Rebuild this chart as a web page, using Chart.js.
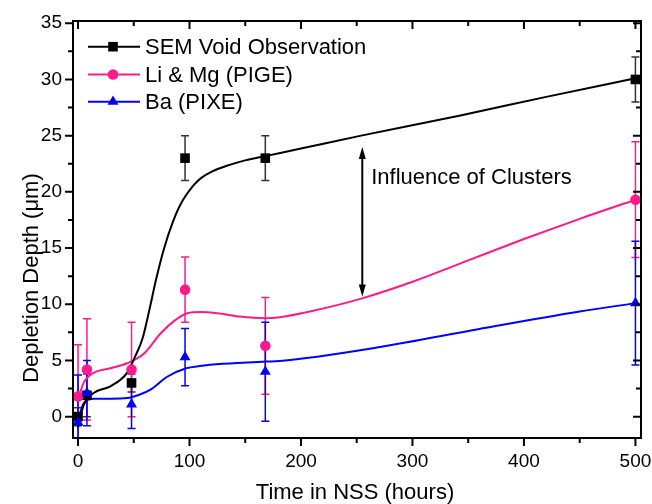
<!DOCTYPE html>
<html>
<head>
<meta charset="utf-8">
<script src="https://cdn.jsdelivr.net/npm/chart.js@4.4.0/dist/chart.umd.min.js"></script>
<style>
  html, body { margin: 0; padding: 0; background: #fff; }
  #wrap { width: 652px; height: 504px; position: relative; }
</style>
</head>
<body>
<div id="wrap"><canvas id="depthChart" width="652" height="504"></canvas></div>
<script>
// measured points (time in NSS, hours)
const hours = [0, 8, 48, 96, 168, 500];
const semDepth = [0, 1.9, 3, 23, 23, 30];
const semErr = [0.8, 1.9, 0.8, 2, 2, 2];
const limgDepth = [1.8, 4.2, 4.2, 11.3, 6.3, 19.3];
const limgErr = [4.6, 4.5, 4.2, 2.9, 4.3, 5.15];
const baDepth = [-0.5, 2.1, 1.1, 5.3, 4.0, 10.1];
const baErr = [4.2, 2.9, 2.15, 2.55, 4.4, 5.5];

// fitted curves
const semFitX = [0, 5, 14, 29, 44, 51, 58, 64, 70, 77, 85, 92, 103, 110, 120, 136, 150, 169, 200, 254, 343, 420, 500];
const semFitY = [-0.9, 1.0, 2.1, 2.7, 3.9, 5.3, 7.0, 9.5, 12.2, 14.9, 17.3, 18.9, 20.5, 21.2, 21.8, 22.4, 22.8, 23.2, 23.85, 25.0, 26.8, 28.45, 30.1];
const limgFitX = [0, 5, 14, 29, 44, 59, 74, 86, 98, 110, 125, 145, 168, 181, 210, 254, 300, 350, 400, 450, 500];
const limgFitY = [1.5, 3.0, 3.9, 4.3, 4.75, 5.6, 7.4, 8.5, 9.2, 9.3, 9.2, 8.9, 8.75, 8.85, 9.4, 10.5, 12.0, 13.9, 15.8, 17.6, 19.3];
const baFitX = [0, 2, 6, 14, 30, 44, 55, 65, 80, 97, 109, 130, 168, 181, 271, 360, 450, 500];
const baFitY = [-1.0, 0.3, 1.3, 1.6, 1.6, 1.65, 1.95, 2.4, 3.55, 4.3, 4.5, 4.7, 4.9, 4.95, 6.2, 7.8, 9.35, 10.1];

const seriesNames = ['SEM Void Observation', 'Li & Mg (PIGE)', 'Ba (PIXE)'];
const seriesColors = ['#000000', '#ff1a8c', '#0000ff'];
const barColors = ['#333333', '#ff1a8c', '#0000ff'];
const markerStyles = ['rect', 'circle', 'triangle'];
const markerRadii = [6.8, 5.3, 6.3];

const xTicks = [0, 100, 200, 300, 400, 500];
const xMinor = [50, 150, 250, 350, 450];
const yTicks = [0, 5, 10, 15, 20, 25, 30, 35];
const yMinor = [2.5, 7.5, 12.5, 17.5, 22.5, 27.5, 32.5];

// double arrow + note
const arrowX = 255, arrowTop = 24.0, arrowBottom = 10.7;
const noteText = 'Influence of Clusters';
const noteX = 263, noteY = 21.2;

const FONT = '"Liberation Sans", Arial, sans-serif';

function pts(xs, ys) { return xs.map((x, i) => ({x: x, y: ys[i]})); }

const markerSets = [semDepth, limgDepth, baDepth].map((vals, i) => ({
    label: seriesNames[i],
    data: pts(hours, vals),
    showLine: false,
    order: 3 - i,
    pointStyle: markerStyles[i],
    pointRadius: markerRadii[i],
    pointBackgroundColor: seriesColors[i],
    pointBorderColor: seriesColors[i],
    pointBorderWidth: 0
}));
const errs = [semErr, limgErr, baErr];

const fitSets = [[semFitX, semFitY], [limgFitX, limgFitY], [baFitX, baFitY]].map((f, i) => ({
    label: seriesNames[i] + ' fit',
    data: pts(f[0], f[1]),
    showLine: true,
    order: 10,
    pointRadius: 0,
    borderColor: seriesColors[i],
    borderWidth: 2,
    cubicInterpolationMode: 'monotone'
}));

const frame = {
    id: 'frame',
    beforeDatasetsDraw(chart) {
        const {ctx, chartArea: a, scales: {x, y}} = chart;
        ctx.save();
        ctx.beginPath();
        ctx.rect(a.left, a.top, a.right - a.left, a.bottom - a.top);
        ctx.clip();
        ctx.lineWidth = 1.5;
        markerSets.forEach((ds, i) => {
            ctx.strokeStyle = barColors[i];
            hours.forEach((h, j) => {
                const px = x.getPixelForValue(h);
                const v = ds.data[j].y, e = errs[i][j];
                const t = y.getPixelForValue(v + e), b = y.getPixelForValue(v - e);
                ctx.beginPath();
                ctx.moveTo(px, t); ctx.lineTo(px, b);
                ctx.moveTo(px - 4, t); ctx.lineTo(px + 4, t);
                ctx.moveTo(px - 4, b); ctx.lineTo(px + 4, b);
                ctx.stroke();
            });
        });
        ctx.restore();
    },
    afterDraw(chart) {
        const {ctx, chartArea: a, scales: {x, y}} = chart;
        ctx.save();
        // box
        ctx.strokeStyle = '#000';
        ctx.lineWidth = 2;
        ctx.strokeRect(a.left, a.top, a.right - a.left, a.bottom - a.top);
        // ticks: bottom/left outward, top/right inward
        ctx.beginPath();
        const xt = xTicks.map(v => [v, 8]).concat(xMinor.map(v => [v, 5]));
        xt.forEach(([v, len]) => {
            const px = x.getPixelForValue(v);
            ctx.moveTo(px, a.bottom); ctx.lineTo(px, a.bottom + len);
            ctx.moveTo(px, a.top); ctx.lineTo(px, a.top + len);
        });
        const yt = yTicks.map(v => [v, 8]).concat(yMinor.map(v => [v, 5]));
        yt.forEach(([v, len]) => {
            const py = y.getPixelForValue(v);
            ctx.moveTo(a.left, py); ctx.lineTo(a.left - len, py);
            ctx.moveTo(a.right, py); ctx.lineTo(a.right - len, py);
        });
        ctx.stroke();

        // legend
        ctx.font = '22px ' + FONT;
        ctx.textBaseline = 'middle';
        ctx.textAlign = 'left';
        const rows = [46.7, 74.5, 101.7];
        seriesNames.forEach((name, i) => {
            const ry = rows[i];
            ctx.strokeStyle = seriesColors[i];
            ctx.lineWidth = 2;
            ctx.beginPath(); ctx.moveTo(88, ry); ctx.lineTo(140, ry); ctx.stroke();
            ctx.fillStyle = seriesColors[i];
            ctx.strokeStyle = seriesColors[i];
            ctx.lineWidth = 0.01;
            Chart.helpers.drawPoint(ctx, {pointStyle: markerStyles[i], rotation: 0, borderWidth: 0, radius: markerRadii[i]}, 113, ry);
            ctx.fillStyle = '#000';
            ctx.fillText(name, 145, ry + 1);
        });

        // double arrow
        const ax = x.getPixelForValue(arrowX);
        const at = y.getPixelForValue(arrowTop), ab = y.getPixelForValue(arrowBottom);
        ctx.strokeStyle = '#000';
        ctx.fillStyle = '#000';
        ctx.lineWidth = 2;
        ctx.beginPath(); ctx.moveTo(ax, at + 8); ctx.lineTo(ax, ab - 8); ctx.stroke();
        ctx.beginPath(); ctx.moveTo(ax, at); ctx.lineTo(ax - 3.5, at + 12); ctx.lineTo(ax + 3.5, at + 12); ctx.closePath(); ctx.fill();
        ctx.beginPath(); ctx.moveTo(ax, ab); ctx.lineTo(ax - 3.5, ab - 12); ctx.lineTo(ax + 3.5, ab - 12); ctx.closePath(); ctx.fill();
        ctx.fillText(noteText, x.getPixelForValue(noteX), y.getPixelForValue(noteY));

        // axis titles
        ctx.textAlign = 'center';
        ctx.textBaseline = 'alphabetic';
        ctx.fillText('Time in NSS (hours)', 355, 499);
        ctx.translate(38, 278);
        ctx.rotate(-Math.PI / 2);
        ctx.fillText('Depletion Depth (\u03bcm)', 0, 0);
        ctx.restore();
    }
};

new Chart(document.getElementById('depthChart'), {
    type: 'scatter',
    data: { datasets: markerSets.concat(fitSets) },
    options: {
        responsive: false,
        animation: false,
        layout: { padding: { top: 21, right: 11, left: 0, bottom: 0 } },
        plugins: { legend: { display: false }, tooltip: { enabled: false } },
        scales: {
            x: {
                type: 'linear', min: -4.5, max: 505,
                grid: { display: false, drawTicks: false },
                border: { display: false },
                afterBuildTicks: s => { s.ticks = xTicks.map(v => ({value: v})); },
                afterFit: s => { s.height = 66; s.paddingLeft = 0; s.paddingRight = 0; },
                ticks: { color: '#000', padding: 12, font: { family: FONT, size: 19 } }
            },
            y: {
                type: 'linear', min: -1.9, max: 35.2,
                grid: { display: false, drawTicks: false },
                border: { display: false },
                afterBuildTicks: s => { s.ticks = yTicks.map(v => ({value: v})); },
                afterFit: s => { s.width = 73; s.paddingTop = 0; s.paddingBottom = 0; },
                ticks: { color: '#000', padding: 11, font: { family: FONT, size: 19 } }
            }
        }
    },
    plugins: [frame]
});
</script>
</body>
</html>
